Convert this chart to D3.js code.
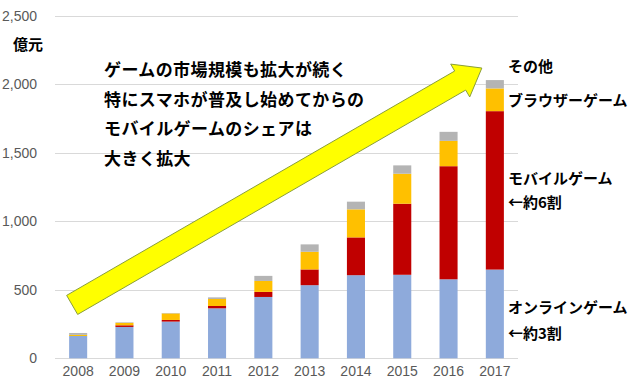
<!DOCTYPE html>
<html>
<head>
<meta charset="utf-8">
<script src="https://cdn.jsdelivr.net/npm/d3@7"></script>
<style>
  body { margin: 0; background: #fff; }
  .tick text { font-family: "Liberation Sans", Arial, sans-serif; font-size: 14px; fill: #595959; }
  .jp { font-family: "Noto Sans CJK JP", sans-serif; font-weight: bold; fill: #000; }
</style>
</head>
<body>
<div id="chart"></div>
<script>
//years on the x axis
var years = ["2008","2009","2010","2011","2012","2013","2014","2015","2016","2017"];
//stacked series, 億元
var online  = [163, 229, 268, 365, 448, 534, 607, 610, 577, 648];
var mobile  = [0, 12, 12, 17, 37, 115, 276, 519, 826, 1157];
var browser = [8, 18, 48, 51, 80, 129, 205, 219, 185, 166];
var other   = [14, 4, 3, 12, 37, 54, 56, 61, 66, 61];
var yTicks  = [0, 500, 1000, 1500, 2000, 2500];

var seriesNames = ["online", "mobile", "browser", "other"];
var seriesColors = ["#8eaadb", "#c00000", "#ffc000", "#b4b4b4"];

//annotation text
var noteLines = ["ゲームの市場規模も拡大が続く", "特にスマホが普及し始めてからの", "モバイルゲームのシェアは", "大きく拡大"];

var width = 640, height = 390;
var margin = {top: 16, right: 122, bottom: 32, left: 55};

var svg = d3.select("#chart").append("svg")
    .attr("width", width)
    .attr("height", height);

var xScale = d3.scaleBand()
    .domain(years)
    .range([margin.left, width - margin.right])
    .paddingInner(0.61)
    .paddingOuter(0.305);

var yScale = d3.scaleLinear()
    .domain([0, 2500])
    .range([height - margin.bottom + 0.3, margin.top]);

//gridlines
svg.append("g")
    .selectAll("line")
    .data(yTicks)
    .enter().append("line")
    .attr("x1", margin.left)
    .attr("x2", width - margin.right)
    .attr("y1", d => Math.round(yScale(d)) + 0.5)
    .attr("y2", d => Math.round(yScale(d)) + 0.5)
    .attr("stroke", "#d9d9d9")
    .attr("stroke-width", 1);

//y axis labels
var leftAxis = d3.axisLeft(yScale).tickValues(yTicks).tickSize(0).tickPadding(0).tickFormat(d3.format(","));
svg.append("g")
    .attr("transform", `translate(${margin.left - 18}, 0)`)
    .call(leftAxis)
    .call(g => g.select(".domain").remove());

//x axis labels
var bottomAxis = d3.axisBottom(xScale).tickSize(0).tickPadding(0);
svg.append("g")
    .attr("transform", `translate(0, ${height - 18})`)
    .call(bottomAxis)
    .call(g => g.select(".domain").remove())
    .selectAll("text").attr("dy", "0.32em").attr("y", 0);

//build the stacked table
var table = years.map((yr, i) => ({year: yr, online: online[i], mobile: mobile[i], browser: browser[i], other: other[i]}));
var stacked = d3.stack().keys(seriesNames)(table);

svg.append("g")
    .selectAll("g")
    .data(stacked)
    .enter().append("g")
    .attr("fill", (d, i) => seriesColors[i])
    .selectAll("rect")
    .data(d => d)
    .enter().append("rect")
    .attr("x", d => xScale(d.data.year))
    .attr("width", xScale.bandwidth())
    .attr("y", d => yScale(d[1]))
    .attr("height", d => yScale(d[0]) - yScale(d[1]));

//big yellow arrow, anchored to the scales
var tail = [xScale("2008") + xScale.bandwidth() / 2 - 6, yScale(390)];
var tip = [xScale("2017") + xScale.bandwidth() / 2 - 13, yScale(2120)];
var dx = tip[0] - tail[0], dy = tip[1] - tail[1];
var len = Math.sqrt(dx * dx + dy * dy);
var ux = dx / len, uy = dy / len;
var nx = -uy, ny = ux;
var shaftW = 11, headW = 19, headL = 25;
var base = [tip[0] - ux * headL, tip[1] - uy * headL];
function pt(p, n) { return [p[0] + nx * n, p[1] + ny * n]; }
var arrowPts = [pt(tail, shaftW), pt(base, shaftW), pt(base, headW), tip, pt(base, -headW), pt(base, -shaftW), pt(tail, -shaftW)];
svg.append("polygon")
    .attr("points", arrowPts.map(p => p.join(",")).join(" "))
    .attr("fill", "#ffff00")
    .attr("stroke", "#8a9e3a")
    .attr("stroke-width", 1);

//annotation text
svg.append("g")
    .selectAll("text")
    .data(noteLines)
    .enter().append("text")
    .attr("class", "jp")
    .attr("x", 104)
    .attr("y", (d, i) => 70 + i * 29.5)
    .attr("dy", "0.36em")
    .style("font-size", "17px")
    .style("letter-spacing", "0.4px")
    .text(d => d);

//unit
svg.append("text")
    .attr("class", "jp")
    .attr("x", 13)
    .attr("y", 45)
    .attr("dy", "0.36em")
    .style("font-size", "15px")
    .text("億元");

//series labels on the right
var rightLabels = [
    {t: "その他", y: 67},
    {t: "ブラウザーゲーム", y: 101},
    {t: "モバイルゲーム", y: 179},
    {t: "←約6割", y: 203},
    {t: "オンラインゲーム", y: 308},
    {t: "←約3割", y: 334}
];
svg.append("g")
    .selectAll("text")
    .data(rightLabels)
    .enter().append("text")
    .attr("class", "jp")
    .attr("x", 508)
    .attr("y", d => d.y)
    .attr("dy", "0.36em")
    .style("font-size", "15px")
    .text(d => d.t);
</script>
</body>
</html>
